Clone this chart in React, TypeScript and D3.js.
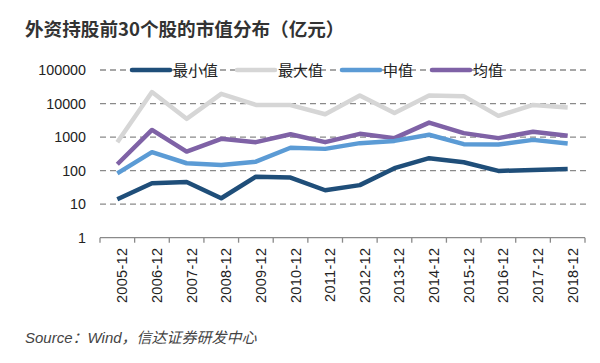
import { useEffect, useRef } from 'react'
import * as d3 from 'd3'

const categories = [
  '2005-12', '2006-12', '2007-12', '2008-12', '2009-12', '2010-12', '2011-12',
  '2012-12', '2013-12', '2014-12', '2015-12', '2016-12', '2017-12', '2018-12',
]
const minValues = [14, 42, 46, 15, 66, 62, 26, 37, 118, 235, 178, 98, 105, 112]
const maxValues = [705, 22000, 3500, 19500, 9100, 9000, 4800, 17400, 5200, 17400, 16600, 4300, 9100, 7600]
const medianValues = [83, 355, 166, 148, 185, 480, 445, 660, 770, 1170, 615, 600, 825, 640]
const meanValues = [155, 1630, 370, 890, 705, 1220, 705, 1250, 930, 2700, 1310, 930, 1450, 1100]
const yTicks = [1, 10, 100, 1000, 10000, 100000]

const seriesNames = ['最小值', '最大值', '中值', '均值']
const seriesColors = ['#1F4E79', '#D6D6D6', '#5B9BD5', '#7F62A6']

const title = '外资持股前30个股的市值分布（亿元）'
const source = 'Source：Wind，信达证券研发中心'

export default function App() {
  const svgRef = useRef<SVGSVGElement>(null)

  useEffect(() => {
    const svg = d3.select(svgRef.current)
    svg.selectAll('*').remove()

    const left = 100,
      right = 585,
      top = 70,
      bottom = 237.7

    const x = d3.scaleBand().domain(categories).range([left, right])
    const y = d3.scaleLog().domain([1, 100000]).range([bottom, top])

    const font = '"Liberation Sans", Arial, "Noto Sans CJK SC", sans-serif'

    // title
    svg
      .append('text')
      .attr('x', 25)
      .attr('y', 36)
      .attr('font-family', '"Noto Sans CJK SC", sans-serif')
      .attr('font-size', 18.6)
      .attr('font-weight', 'bold')
      .attr('fill', '#333')
      .text(title)

    // grid lines
    svg
      .append('g')
      .selectAll('line')
      .data(yTicks.filter((d) => d > 1))
      .join('line')
      .attr('x1', left)
      .attr('x2', 590)
      .attr('y1', (d) => y(d))
      .attr('y2', (d) => y(d))
      .attr('stroke', '#8a8a8a')
      .attr('stroke-width', 1.3)
      .attr('stroke-dasharray', '6,4')

    // y labels
    svg
      .append('g')
      .selectAll('text')
      .data(yTicks)
      .join('text')
      .attr('x', 86)
      .attr('y', (d) => y(d))
      .attr('dy', '0.36em')
      .attr('text-anchor', 'end')
      .attr('font-family', font)
      .attr('font-size', 14.3)
      .attr('fill', '#222')
      .text((d) => String(d))

    // x axis
    const xAxis = svg.append('g')
    xAxis
      .append('line')
      .attr('x1', left)
      .attr('x2', right)
      .attr('y1', bottom)
      .attr('y2', bottom)
      .attr('stroke', '#8a8a8a')
      .attr('stroke-width', 1.3)
    xAxis
      .selectAll('line.tick')
      .data(categories.concat(['end']))
      .join('line')
      .attr('class', 'tick')
      .attr('x1', (d, i) => (i < categories.length ? x(d)! : right))
      .attr('x2', (d, i) => (i < categories.length ? x(d)! : right))
      .attr('y1', bottom)
      .attr('y2', bottom + 5)
      .attr('stroke', '#8a8a8a')
      .attr('stroke-width', 1.3)
    xAxis
      .selectAll('text')
      .data(categories)
      .join('text')
      .attr('transform', (d) => `translate(${x(d)! + x.bandwidth() / 2 + 10},${bottom + 10}) rotate(-90)`)
      .attr('text-anchor', 'end')
      .attr('font-family', font)
      .attr('font-size', 14.5)
      .attr('letter-spacing', 0.3)
      .attr('fill', '#222')
      .text((d) => d)

    // lines
    const allSeries = [minValues, maxValues, medianValues, meanValues]
    const line = d3
      .line<number>()
      .x((d, i) => x(categories[i])! + x.bandwidth() / 2)
      .y((d) => y(d))
    const order = [1, 3, 2, 0]
    svg
      .append('g')
      .selectAll('path')
      .data(order)
      .join('path')
      .attr('d', (k) => line(allSeries[k]))
      .attr('fill', 'none')
      .attr('stroke', (k) => seriesColors[k])
      .attr('stroke-width', 4.5)
      .attr('stroke-linejoin', 'round')

    // legend
    const legendX = [132, 237, 342, 432]
    const legend = svg
      .append('g')
      .selectAll('g')
      .data(seriesNames)
      .join('g')
      .attr('transform', (d, i) => `translate(${legendX[i]},${top})`)
    legend
      .append('line')
      .attr('x1', 0)
      .attr('x2', 38)
      .attr('stroke', (d, i) => seriesColors[i])
      .attr('stroke-width', 4.5)
      .attr('stroke-linecap', 'round')
    legend
      .append('text')
      .attr('x', 41)
      .attr('dy', '0.38em')
      .attr('font-family', '"Noto Sans CJK SC", sans-serif')
      .attr('font-size', 15)
      .attr('fill', '#222')
      .text((d) => d)

    // source
    svg
      .append('text')
      .attr('x', 25)
      .attr('y', 343)
      .attr('font-family', font)
      .attr('font-size', 15)
      .attr('font-style', 'italic')
      .attr('fill', '#444')
      .text(source)
  }, [])

  return (
    <svg
      ref={svgRef}
      width={600}
      height={363}
      style={{ position: 'absolute', left: 0, top: 0, background: '#fff' }}
    />
  )
}
